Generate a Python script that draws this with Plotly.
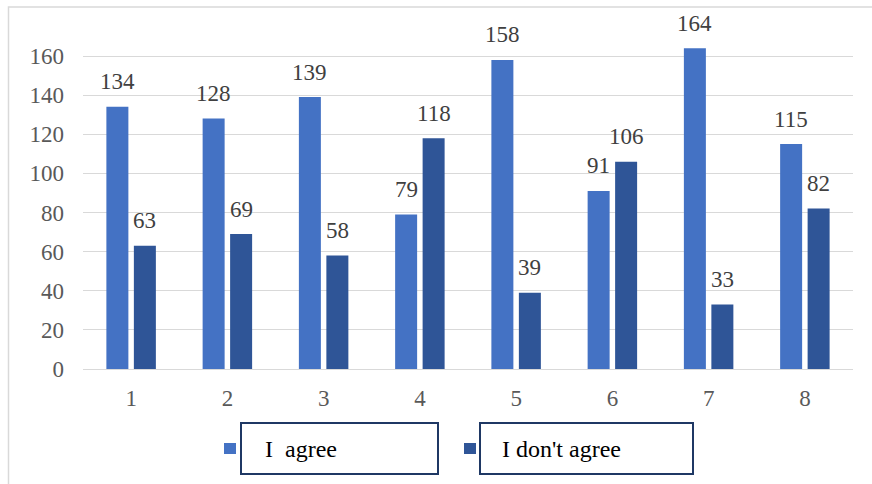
import plotly.graph_objects as go

categories = ["1", "2", "3", "4", "5", "6", "7", "8"]
agree = [134, 128, 139, 79, 158, 91, 164, 115]
disagree = [63, 69, 58, 118, 39, 106, 33, 82]
series_names = ["I\u00a0 agree", "I don't agree"]
y_ticks = [0, 20, 40, 60, 80, 100, 120, 140, 160]

W, H = 872, 484
L, R, T, B = 83, 853, 47, 369  # plot area in pixels
Y_MAX = 164.6  # room for the tallest bar above the 160 gridline
FONT = "Liberation Serif"
C_AGREE = "#4472C4"
C_DIS = "#2F5597"
C_LABEL = "#404040"
C_TICK = "#595959"


def px(x):
    return (x - L) / (R - L)


def py(y):
    return (B - y) / (B - T)


fig = go.Figure()
fig.add_trace(go.Bar(x=categories, y=agree, name=series_names[0],
                     marker=dict(color=C_AGREE, line=dict(width=0))))
fig.add_trace(go.Bar(x=categories, y=disagree, name=series_names[1],
                     marker=dict(color=C_DIS, line=dict(width=0))))

# value labels above each bar (x given as category index)
slot = (R - L) / len(categories) * (1 - 0.4286) / 2
annotations = []
for vals, shift in ((agree, -slot / 2), (disagree, slot / 2)):
    for i, v in enumerate(vals):
        annotations.append(dict(
            x=i, y=v, xref="x", yref="y", text=str(v), showarrow=False,
            xshift=shift, yshift=25, yanchor="middle",
            font=dict(family=FONT, size=23, color=C_LABEL)))

# legend: colour swatch + framed label for each series
shapes = []
legend_items = [
    (C_AGREE, 224, 241, 438, 263, series_names[0]),
    (C_DIS, 464, 480, 693, 500, series_names[1]),
]
for color, sx, bx0, bx1, tx, name in legend_items:
    shapes.append(dict(type="rect", xref="paper", yref="paper",
                       x0=px(sx), x1=px(sx + 12), y0=py(454), y1=py(443),
                       fillcolor=color, line=dict(width=0)))
    shapes.append(dict(type="rect", xref="paper", yref="paper",
                       x0=px(bx0), x1=px(bx1), y0=py(474), y1=py(423),
                       fillcolor="white", line=dict(color="#1F3864", width=2)))
    annotations.append(dict(
        x=px(tx), y=py(449), xref="paper", yref="paper", text=name,
        showarrow=False, xanchor="left", yanchor="middle",
        font=dict(family=FONT, size=24, color="#000000")))

# chart frame
shapes.append(dict(type="rect", xref="paper", yref="paper",
                   x0=px(8.5), x1=px(W + 3), y0=py(H + 3), y1=py(7),
                   line=dict(color="#D9D9D9", width=1.5), layer="below"))

fig.update_layout(
    width=W, height=H,
    margin=dict(l=L, r=W - R, t=T, b=H - B),
    paper_bgcolor="white", plot_bgcolor="white",
    barmode="group", bargap=0.4286, bargroupgap=0.2,
    showlegend=False,
    annotations=annotations, shapes=shapes,
    font=dict(family=FONT, size=23, color=C_TICK),
    xaxis=dict(type="category", range=[-0.5, len(categories) - 0.5],
               showgrid=False, showline=False, zeroline=False,
               ticks="", ticklabelstandoff=13,
               tickfont=dict(family=FONT, size=23, color=C_TICK)),
    yaxis=dict(range=[0, Y_MAX], tickvals=y_ticks, showgrid=True,
               gridcolor="#D9D9D9", gridwidth=1, zeroline=True,
               zerolinecolor="#D9D9D9", zerolinewidth=1, showline=False,
               ticks="", ticklabelstandoff=18,
               tickfont=dict(family=FONT, size=23, color=C_TICK)),
)
fig.update_traces(cliponaxis=False)

fig.write_html("out.html")
